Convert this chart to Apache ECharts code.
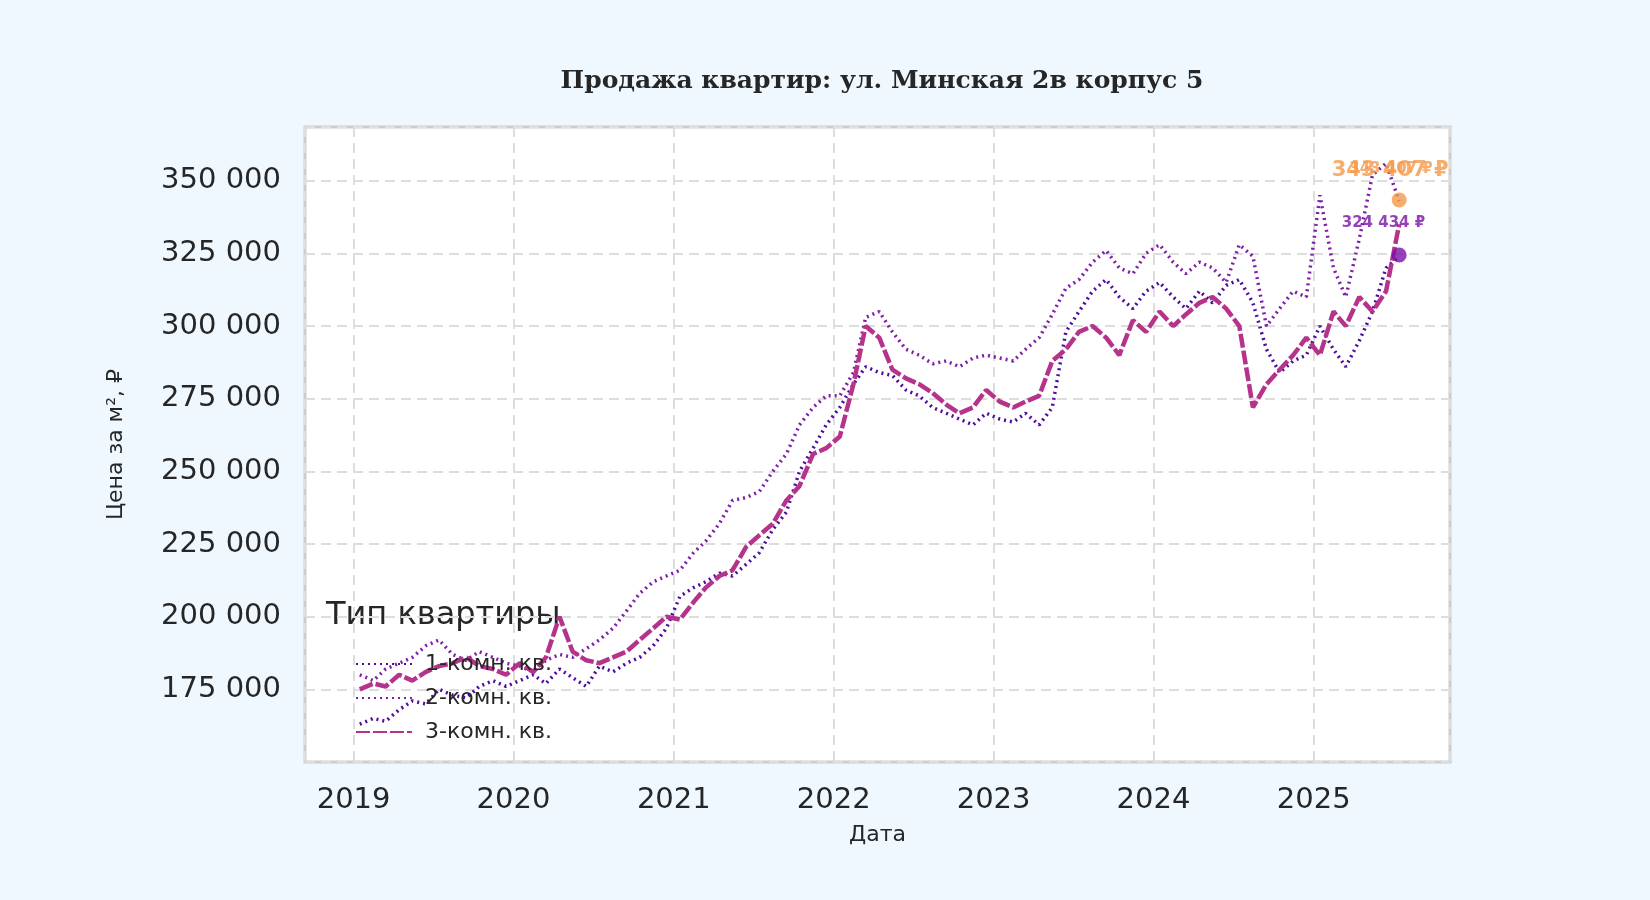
<!DOCTYPE html>
<html lang="ru">
  <head>
    <meta charset="UTF-8" />
    <title>Продажа квартир</title>
    <style>
      html, body { margin: 0; padding: 0; background: #f0f8ff; }
    </style>
  </head>
  <body>
    <div id="chart" style="width: 1650px; height: 900px"></div>
    <script src="https://cdn.jsdelivr.net/npm/echarts@6/dist/echarts.min.js"></script>
    <script>
      // месяцы 2019-01 ... 2025-07
      var months = [];
      for (var y = 2019; y <= 2025; y++) {
        for (var m = 1; m <= 12; m++) {
          if (y === 2025 && m > 7) break;
          months.push(y + "-" + (m < 10 ? "0" + m : m) + "-15");
        }
      }
      var seriesNames = ["1-комн. кв.", "2-комн. кв.", "3-комн. кв."];
      // цена за м², тыс. руб
      var room1 = [
        163,165,164,168,171,170,175,173,172,176,178,176,
        178,180,177,182,179,176,183,181,184,186,190,196,
        207,210,212,215,214,218,222,230,236,250,258,266,
        272,280,286,284,283,278,276,272,270,268,266,270,
        268,267,270,266,272,298,305,312,316,310,306,312,
        315,310,306,312,308,314,316,308,292,284,288,290,
        300,292,286,295,305,320,324
      ];
      var room2 = [
        180,178,182,184,186,190,192,187,185,188,186,184,
        183,181,185,187,186,189,192,196,202,208,212,214,
        216,222,226,232,240,241,243,250,256,266,272,276,
        276,284,303,305,298,292,290,287,288,286,289,290,
        289,288,292,296,304,313,316,322,326,320,318,325,
        328,322,318,322,320,315,328,324,300,306,312,310,
        345,320,310,330,352,356,343
      ];
      var room3 = [
        175,177,176,180,178,181,183,184,186,183,182,180,
        184,181,186,200,188,185,184,186,188,192,196,200,
        199,205,210,214,216,224,228,232,240,245,256,258,
        262,280,300,296,285,282,280,277,273,270,272,278,
        274,272,274,276,288,292,298,300,296,290,302,298,
        305,300,304,308,310,306,300,272,280,285,290,296,
        290,305,300,310,305,312,335
      ];
      var lastDate = "2025-07-15";
      var lastPurple = 324434;
      var lastOrange = 343407;

      function fmt(v) {
        return String(Math.round(v)).replace(/\B(?=(\d{3})+(?!\d))/g, " ");
      }
      function pairs(vals) {
        return vals.map(function (v, i) { return [months[i], v * 1000]; });
      }

      var chart = echarts.init(document.getElementById("chart"));
      var colors = ["#4c0c9e", "#7e1fa8", "#b5338a"];
      var styles = [
        { type: [2, 4], width: 3.5 },
        { type: [2, 4], width: 3.5 },
        { type: [14, 3], width: 4.5 }
      ];
      var lines = [room1, room2, room3].map(function (vals, i) {
        return {
          name: seriesNames[i],
          type: "line",
          symbol: "none",
          data: pairs(vals),
          itemStyle: { color: colors[i] },
          lineStyle: { color: colors[i], type: styles[i].type, width: styles[i].width }
        };
      });

      var option = {
        backgroundColor: "#f0f8ff",
        animation: false,
        title: {
          text: "Продажа квартир: ул. Минская 2в корпус 5",
          left: 877, textAlign: "center", top: 64,
          textStyle: { fontFamily: "DejaVu Serif", fontWeight: "bold", fontSize: 25, color: "#262626" }
        },
        grid: {
          left: 305, right: 200, top: 127, bottom: 138,
          show: true, backgroundColor: "#ffffff", borderColor: "#cccccc", borderWidth: 3
        },
        legend: {
          data: seriesNames,
          orient: "vertical",
          left: 350, top: 648,
          itemWidth: 56, itemHeight: 14, itemGap: 12,
          itemStyle: { color: "transparent", borderWidth: 0 },
          textStyle: { fontFamily: "DejaVu Sans", fontSize: 22, color: "#262626", padding: [0, 0, 0, 8] }
        },
        graphic: [{
          type: "text", left: 326, top: 600,
          style: { text: "Тип квартиры", font: "32px 'DejaVu Sans'", fill: "#262626" }
        }],
        xAxis: {
          type: "time",
          min: "2018-09-12", max: "2025-11-08",
          minInterval: 365 * 86400000,
          name: "Дата", nameLocation: "middle", nameGap: 62,
          nameTextStyle: { fontFamily: "DejaVu Sans", fontSize: 22, color: "#262626" },
          axisLine: { show: false }, axisTick: { show: false },
          axisLabel: { formatter: "{yyyy}", fontFamily: "DejaVu Sans", fontSize: 29, color: "#262626", margin: 24 },
          splitLine: { show: true, lineStyle: { color: "#dddddd", type: [10, 6], width: 2 } }
        },
        yAxis: {
          type: "value",
          min: 150000, max: 368500, interval: 25000,
          name: "Цена за м², ₽", nameLocation: "middle", nameGap: 178,
          nameTextStyle: { fontFamily: "DejaVu Sans", fontSize: 22, color: "#262626" },
          axisLine: { show: false }, axisTick: { show: false },
          axisLabel: {
            fontFamily: "DejaVu Sans", fontSize: 29, color: "#262626", margin: 24,
            formatter: function (v) { return v % 25000 === 0 && v > 150000 ? fmt(v) : ""; }
          },
          splitLine: { show: true, lineStyle: { color: "#dddddd", type: [10, 6], width: 2 } }
        },
        series: lines.concat([
          {
            type: "scatter", symbolSize: 15, z: 5,
            itemStyle: { color: "#7a12a8" },
            data: [[lastDate, lastPurple]],
            label: {
              show: true, position: [-50, -32], formatter: function (p) { return fmt(p.value[1]) + " ₽"; },
              fontFamily: "DejaVu Sans", fontWeight: "bold", fontSize: 15, color: "#7a12a8"
            }
          },
          {
            type: "scatter", symbolSize: 15, z: 5,
            itemStyle: { color: "#f5994a" },
            data: [[lastDate, lastOrange]],
            label: {
              show: true, position: [-60, -32], formatter: function (p) { return fmt(p.value[1]) + " ₽"; },
              fontFamily: "DejaVu Sans", fontWeight: "bold", fontSize: 21, color: "#f5994a"
            }
          },
          {
            type: "scatter", symbolSize: 0, z: 5,
            data: [[lastDate, lastOrange]],
            label: {
              show: true, position: [-50, -38], formatter: function (p) { return fmt(p.value[1]) + " ₽"; },
              fontFamily: "DejaVu Sans", fontWeight: "bold", fontSize: 15, color: "#f5994a"
            }
          }
        ])
      };
      chart.setOption(option);
    </script>
  </body>
</html>
